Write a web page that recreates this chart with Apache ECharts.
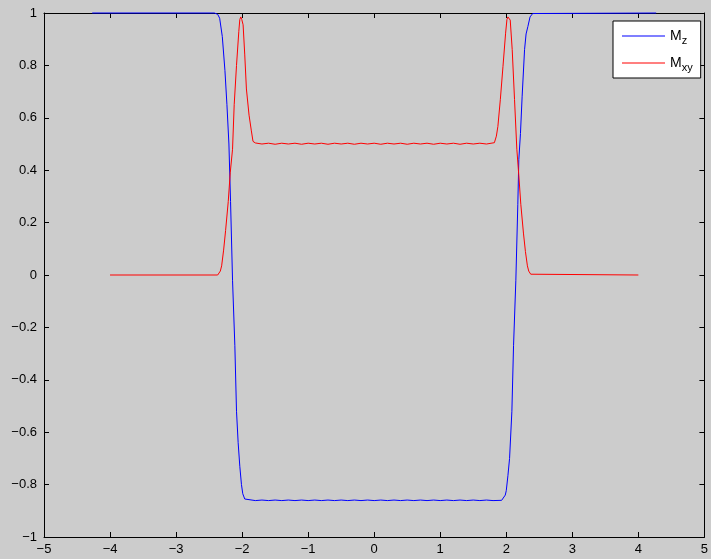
<!DOCTYPE html>
<html>
<head>
<meta charset="utf-8">
<script src="https://cdn.jsdelivr.net/npm/echarts@6/dist/echarts.min.js"></script>
<style>
  html, body { margin: 0; padding: 0; background: #cccccc; }
  #chart { width: 711px; height: 559px; }
</style>
</head>
<body>
<div id="chart"></div>
<script>
// Mz (blue)
let mzX = [-4.27, -2.42, -2.37, -2.34, -2.30, -2.26, -2.23, -2.20, -2.175, -2.145, -2.11, -2.085, -2.06, -2.035, -2.01, -1.99, -1.96, -1.93,
    -1.8, -1.7, -1.6, -1.5, -1.4, -1.3, -1.2, -1.1, -1.0, -0.9, -0.8, -0.7, -0.6, -0.5, -0.4, -0.3, -0.2, -0.1, 0.0,
    0.1, 0.2, 0.3, 0.4, 0.5, 0.6, 0.7, 0.8, 0.9, 1.0, 1.1, 1.2, 1.3, 1.4, 1.5, 1.6, 1.7, 1.8,
    1.93, 1.96, 1.985, 2.0, 2.025, 2.05, 2.085, 2.11, 2.145, 2.175, 2.19, 2.215, 2.24, 2.277, 2.30, 2.327, 2.36, 2.40, 2.43, 4.27];
let mzY = [1, 1, 0.995, 0.98, 0.91, 0.78, 0.65, 0.50, 0.28, -0.02, -0.27, -0.52, -0.64, -0.73, -0.80, -0.835, -0.855, -0.86,
    -0.861, -0.859, -0.861, -0.859, -0.861, -0.859, -0.861, -0.859, -0.861, -0.859, -0.861, -0.859, -0.861, -0.859, -0.861, -0.859, -0.861, -0.859, -0.861,
    -0.859, -0.861, -0.859, -0.861, -0.859, -0.861, -0.859, -0.861, -0.859, -0.861, -0.859, -0.861, -0.859, -0.861, -0.859, -0.861, -0.859, -0.861,
    -0.86, -0.856, -0.84, -0.823, -0.766, -0.70, -0.52, -0.27, -0.02, 0.27, 0.44, 0.54, 0.68, 0.86, 0.92, 0.948, 0.985, 0.998, 1, 1];

// Mxy (red)
let mxyX = [-4.0, -2.37, -2.36, -2.33, -2.31, -2.28, -2.25, -2.21, -2.18, -2.145, -2.12, -2.085, -2.05, -2.035, -2.02, -2.005, -1.995, -1.985, -1.96, -1.935, -1.895, -1.86, -1.835,
    -1.8, -1.7, -1.6, -1.5, -1.4, -1.3, -1.2, -1.1, -1.0, -0.9, -0.8, -0.7, -0.6, -0.5, -0.4, -0.3, -0.2, -0.1, 0.0,
    0.1, 0.2, 0.3, 0.4, 0.5, 0.6, 0.7, 0.8, 0.9, 1.0, 1.1, 1.2, 1.3, 1.4, 1.5, 1.6, 1.7, 1.82,
    1.85, 1.873, 1.91, 1.95, 1.99, 2.01, 2.025, 2.04, 2.06, 2.09, 2.125, 2.16, 2.19, 2.22, 2.26, 2.29, 2.32, 2.34, 2.37, 2.40, 4.0];
let mxyY = [0, 0, 0.003, 0.015, 0.035, 0.095, 0.17, 0.28, 0.39, 0.48, 0.65, 0.80, 0.93, 0.975, 0.985, 0.975, 0.98, 0.955, 0.84, 0.71, 0.61, 0.55, 0.51,
    0.504, 0.5, 0.503, 0.499, 0.503, 0.5, 0.503, 0.499, 0.503, 0.5, 0.503, 0.499, 0.503, 0.5, 0.503, 0.499, 0.503, 0.5, 0.503,
    0.499, 0.503, 0.5, 0.503, 0.499, 0.503, 0.5, 0.503, 0.499, 0.503, 0.5, 0.503, 0.499, 0.503, 0.5, 0.503, 0.5, 0.505,
    0.53, 0.567, 0.669, 0.795, 0.923, 0.975, 0.985, 0.978, 0.973, 0.86, 0.67, 0.48, 0.38, 0.27, 0.16, 0.09, 0.035, 0.015, 0.003, 0, 0];

let seriesNames = ["Mz", "Mxy"];
let subText = { Mz: "z", Mxy: "xy" };

function zip(xs, ys) {
    let out = [];
    for (let i = 0; i < xs.length; i++) {
        out.push([xs[i], ys[i]]);
    }
    return out;
}

function fmt(v) {
    let r = Math.round(v * 10) / 10;
    return String(r).replace("-", "\u2212");
}

let chart = echarts.init(document.getElementById("chart"));
let axisFont = {
    color: "#000",
    fontSize: 13,
    fontFamily: "Liberation Sans, Arial, sans-serif",
};
chart.setOption({
    backgroundColor: "#cccccc",
    animation: false,
    grid: { left: 44, right: 5, top: 13, bottom: 22 },
    legend: {
        orient: "vertical",
        left: 613,
        top: 21,
        width: 86,
        backgroundColor: "#ffffff",
        borderColor: "#000",
        borderWidth: 1,
        borderRadius: 0,
        padding: [5, 8, 5, 9],
        itemGap: 7,
        itemWidth: 43,
        itemHeight: 1,
        icon: "rect",
        data: seriesNames,
        formatter: function (name) {
            return "{m|M}{s|" + subText[name] + "}";
        },
        textStyle: {
            rich: {
                m: { fontSize: 14, fontFamily: "Liberation Sans, Arial, sans-serif", color: "#000", lineHeight: 18 },
                s: { fontSize: 11, fontFamily: "Liberation Sans, Arial, sans-serif", color: "#000", padding: [9, 0, 0, 0], lineHeight: 18 },
            },
        },
    },
    xAxis: [
        {
            type: "value",
            min: -5,
            max: 5,
            interval: 1,
            axisLine: { onZero: false, lineStyle: { color: "#000", width: 1 } },
            axisTick: { inside: true, length: 5, lineStyle: { color: "#000" } },
            axisLabel: Object.assign({ margin: 6, formatter: fmt }, axisFont),
            splitLine: { show: false },
        },
        {
            type: "value",
            position: "top",
            min: -5,
            max: 5,
            interval: 1,
            axisLine: { onZero: false, lineStyle: { color: "#000", width: 1 } },
            axisTick: { inside: true, length: 5, lineStyle: { color: "#000" } },
            axisLabel: { show: false },
            splitLine: { show: false },
        },
    ],
    yAxis: [
        {
            type: "value",
            min: -1,
            max: 1,
            interval: 0.2,
            axisLine: { onZero: false, lineStyle: { color: "#000", width: 1 } },
            axisTick: { inside: true, length: 5, lineStyle: { color: "#000" } },
            axisLabel: Object.assign({ margin: 7, formatter: fmt }, axisFont),
            splitLine: { show: false },
        },
        {
            type: "value",
            position: "right",
            min: -1,
            max: 1,
            interval: 0.2,
            axisLine: { onZero: false, lineStyle: { color: "#000", width: 1 } },
            axisTick: { inside: true, length: 5, lineStyle: { color: "#000" } },
            axisLabel: { show: false },
            splitLine: { show: false },
        },
    ],
    series: [
        {
            name: "Mz",
            type: "line",
            data: zip(mzX, mzY),
            showSymbol: false,
            symbol: "none",
            clip: false,
            lineStyle: { color: "#0000ff", width: 1 },
            itemStyle: { color: "#0000ff" },
        },
        {
            name: "Mxy",
            type: "line",
            data: zip(mxyX, mxyY),
            showSymbol: false,
            symbol: "none",
            clip: false,
            lineStyle: { color: "#ff0000", width: 1 },
            itemStyle: { color: "#ff0000" },
        },
    ],
});
window.addEventListener("resize", function () {
    chart.resize();
});
</script>
</body>
</html>
